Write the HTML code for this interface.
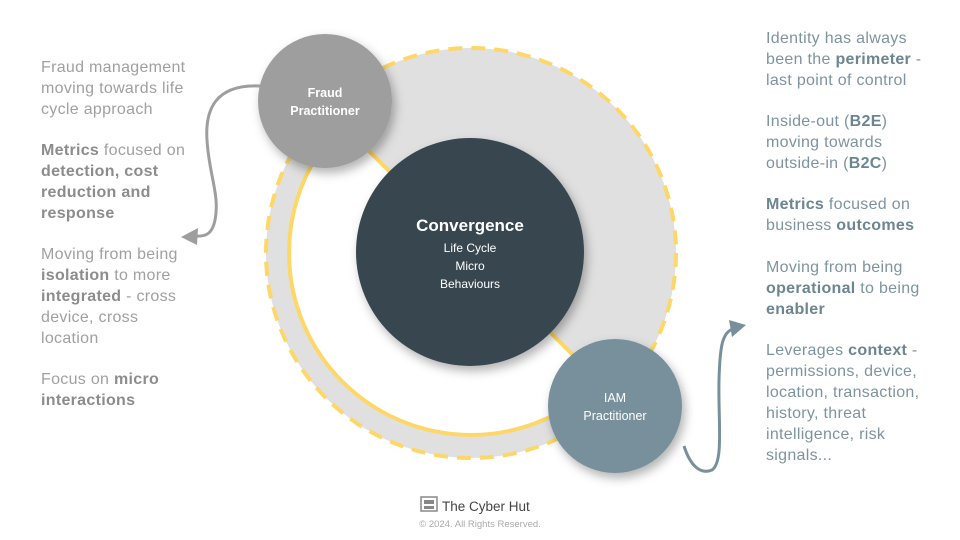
<!DOCTYPE html>
<html><head><meta charset="utf-8"><style>
html,body{margin:0;padding:0;background:#fff;}
body{width:960px;height:540px;position:relative;overflow:hidden;font-family:"Liberation Sans",sans-serif;}
.t{position:absolute;font-size:16px;letter-spacing:0.3px;line-height:21px;white-space:nowrap;}
.l{left:41px;color:#a0a0a0;}
.l b{color:#8c8c8c;}
.r{left:766px;color:#7d949f;}
.r b{color:#6b8591;}
</style></head><body>
<svg width="960" height="540" style="position:absolute;left:0;top:0">
<defs>
<filter id="sh" x="-30%" y="-30%" width="160%" height="160%"><feDropShadow dx="3" dy="5" stdDeviation="5" flood-color="#000" flood-opacity="0.3"/></filter>
</defs>
<circle cx="471" cy="253" r="205" fill="#e0e0e0" stroke="#fdd768" stroke-width="4" stroke-dasharray="14 9"/>
<path d="M342.3,124.3 A182,182 0 0 0 599.7,381.7 Z" fill="#fff" stroke="#fdd768" stroke-width="4"/>
<circle cx="470" cy="252" r="114" fill="#37474f" filter="url(#sh)"/>
<circle cx="325" cy="101" r="67" fill="#9e9e9e" filter="url(#sh)"/>
<circle cx="615" cy="406" r="67" fill="#78909c" filter="url(#sh)"/>
<path d="M260,86 C215,84 205,110 207,140 C209,175 220,195 215,220 C212,235 205,237 193,236" fill="none" stroke="#9e9e9e" stroke-width="3"/>
<polygon points="181,237 198,228 197,245" fill="#9e9e9e"/>
<path d="M684,446 C690,465 700,475 712,470 C724,462 718,420 719,380 C720,345 722,332 735,328" fill="none" stroke="#78909c" stroke-width="3"/>
<polygon points="746,325 729,320 732,337" fill="#78909c"/>
<g font-family="Liberation Sans,sans-serif" fill="#fff" text-anchor="middle">
<text x="325" y="97" font-size="12.5" font-weight="bold">Fraud</text>
<text x="325" y="115" font-size="12.5" font-weight="bold">Practitioner</text>
<text x="615" y="402" font-size="12.5">IAM</text>
<text x="615" y="420" font-size="12.5">Practitioner</text>
<text x="470" y="231" font-size="17" font-weight="bold">Convergence</text>
<text x="470" y="252" font-size="12">Life Cycle</text>
<text x="470" y="270" font-size="12">Micro</text>
<text x="470" y="288" font-size="12">Behaviours</text>
</g>
<g fill="#888"><rect x="421" y="497" width="16" height="14" fill="none" stroke="#888" stroke-width="1.5"/><rect x="424" y="500" width="10" height="4"/><rect x="424" y="506" width="10" height="3"/></g>
<text x="442" y="511" font-family="Liberation Sans,sans-serif" font-size="13.5" fill="#444">The Cyber Hut</text>
<text x="480" y="527" font-family="Liberation Sans,sans-serif" font-size="9.5" fill="#aaa" text-anchor="middle">© 2024. All Rights Reserved.</text>
</svg>
<div class="t l" style="top:57px">Fraud management<br>moving towards life<br>cycle approach</div>
<div class="t l" style="top:140px"><b>Metrics</b> focused on<br><b>detection, cost</b><br><b>reduction and</b><br><b>response</b></div>
<div class="t l" style="top:244px">Moving from being<br><b>isolation</b> to more<br><b>integrated</b> - cross<br>device, cross<br>location</div>
<div class="t l" style="top:369px">Focus on <b>micro</b><br><b>interactions</b></div>
<div class="t r" style="top:28px">Identity has always<br>been the <b>perimeter</b> -<br>last point of control</div>
<div class="t r" style="top:111px">Inside-out (<b>B2E</b>)<br>moving towards<br>outside-in (<b>B2C</b>)</div>
<div class="t r" style="top:194px"><b>Metrics</b> focused on<br>business <b>outcomes</b></div>
<div class="t r" style="top:257px">Moving from being<br><b>operational</b> to being<br><b>enabler</b></div>
<div class="t r" style="top:340px">Leverages <b>context</b> -<br>permissions, device,<br>location, transaction,<br>history, threat<br>intelligence, risk<br>signals...</div>
</body></html>
